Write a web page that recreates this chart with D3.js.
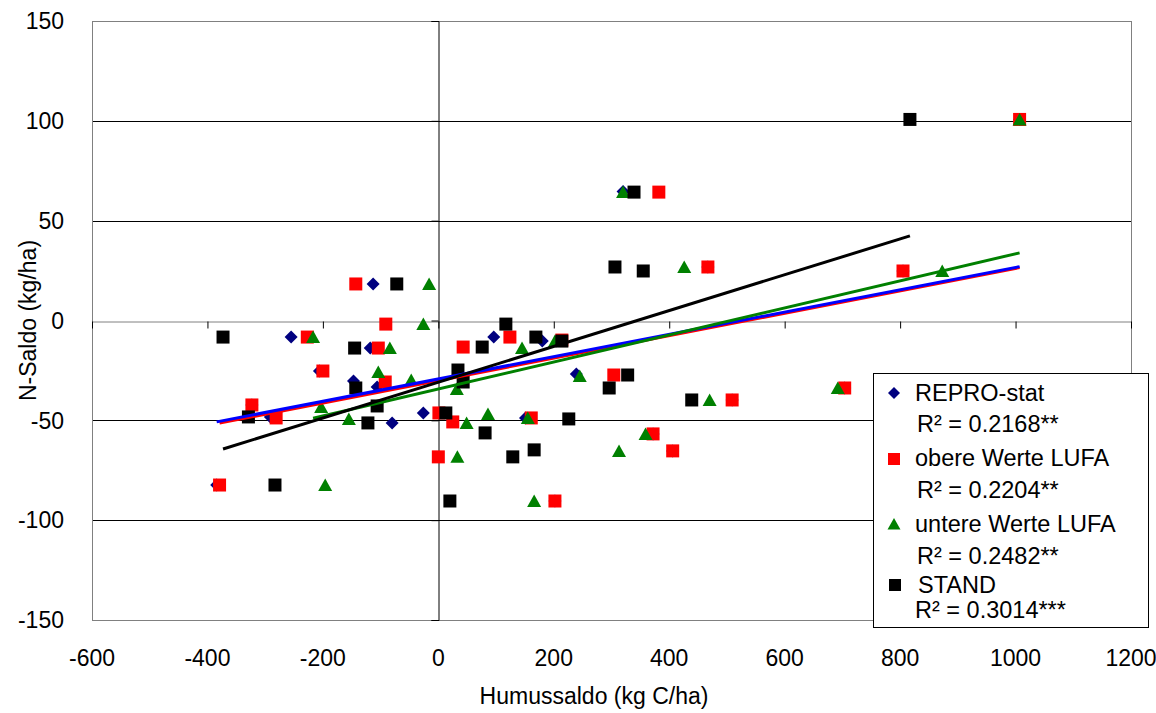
<!DOCTYPE html>
<html><head><meta charset="utf-8">
<script src="https://cdn.jsdelivr.net/npm/d3@7"></script>
<style>body{margin:0;background:#fff} text{font-family:"Liberation Sans",Arial,sans-serif;fill:#000}</style>
</head><body><svg id="c" width="1156" height="713"></svg>
<script>
const xTicks = [-600,-400,-200,0,200,400,600,800,1000,1200];
const yTicks = [-150,-100,-50,0,50,100,150];
const xTitle = "Humussaldo (kg C/ha)";
const yTitle = "N-Saldo (kg/ha)";
const seriesNames = ["REPRO-stat","obere Werte LUFA","untere Werte LUFA","STAND"];
const rSquared = ["R² = 0.2168**","R² = 0.2204**","R² = 0.2482**","R² = 0.3014***"];

const reproX = [1007,320,805,467,-113,-255,96,180,-118,-206,239,-147,-106,704,509,-323,-26,-291,151,-80,372,406,202,-384];
const reproY = [100.7,64.6,24.8,26.8,18.3,-8.3,-8.3,-10.3,-13.8,-25.3,-26.8,-30.3,-33.3,-33.8,-39.8,-42.3,-46.3,-48.3,-48.8,-51.3,-56.8,-65.3,-90.4,-82.4];

const obereX = [1007,382,467,805,-143,-91,-227,124,214,-104,43,-200,304,-92,704,509,-323,1,-281,161,25,372,406,0,-379,202];
const obereY = [100.7,64.3,26.8,24.8,18.3,-1.8,-8.3,-8.3,-9.8,-13.8,-13.3,-25.3,-27.3,-30.8,-33.8,-39.8,-42.3,-46.3,-48.8,-48.8,-50.8,-56.8,-65.3,-68.3,-82.4,-90.4];

const untereX = [1007,320,426,873,-16,-26,-217,202,-84,145,-104,245,-47,32,692,470,-203,86,-155,155,49,359,313,33,-196,166];
const untereY = [100.7,64.3,26.8,24.8,18.3,-1.8,-8.3,-10.3,-13.8,-13.8,-25.8,-27.8,-29.8,-34.3,-33.8,-39.8,-43.3,-46.8,-49.3,-48.8,-51.3,-56.8,-65.3,-68.3,-82.4,-90.4];

const standX = [817,339,306,355,-72,117,-373,169,214,-145,76,34,328,43,-143,296,439,-106,13,-329,226,-122,81,166,129,-283,20];
const standY = [100.7,64.3,26.8,24.8,18.3,-1.8,-8.3,-8.3,-10.3,-13.8,-13.3,-24.8,-27.3,-30.8,-33.8,-33.8,-39.8,-42.8,-46.3,-48.3,-49.3,-51.3,-56.3,-64.8,-68.3,-82.4,-90.4];

const trendSlope = [0.0559,0.0562,0.0677,0.0897];
const trendIntercept = [-29.3,-30.1,-34.3,-30.9];

const colors = ["#000080","#FF0000","#008000","#000000"];
const lineColors = ["#0000FF","#FF0000","#008000","#000000"];
const shapes = ["diamond","square","triangle","square"];

const svg = d3.select("#c");
const x = d3.scaleLinear().domain([-600,1200]).range([92,1131]);
const y = d3.scaleLinear().domain([-150,150]).range([620,21]);

const series = [
  {xs:reproX, ys:reproY},
  {xs:obereX, ys:obereY},
  {xs:untereX, ys:untereY},
  {xs:standX, ys:standY}
];

// gridlines
svg.append("g").selectAll("line").data(yTicks.filter(v=>v!==0 && Math.abs(v)!==150)).join("line")
  .attr("x1",x(-600)).attr("x2",x(1200))
  .attr("y1",d=>Math.round(y(d))+0.5).attr("y2",d=>Math.round(y(d))+0.5)
  .attr("stroke","#000").attr("stroke-width",1);

// frame
svg.append("rect").attr("x",x(-600)+0.5).attr("y",y(150)+0.5)
  .attr("width",x(1200)-x(-600)).attr("height",y(-150)-y(150))
  .attr("fill","none").attr("stroke","#808080").attr("stroke-width",1);

// x axis at y=0
const xAxisG = svg.append("g").attr("transform",`translate(0,${Math.round(y(0))+0.5})`)
  .call(d3.axisBottom(x).tickValues(xTicks).tickSize(7).tickFormat(""));
xAxisG.select(".domain").attr("stroke","#808080");
xAxisG.selectAll(".tick line").attr("stroke","#000");

// y axis at x=0
const yAxisG = svg.append("g").attr("transform",`translate(${Math.round(x(0))+0.5},0)`)
  .call(d3.axisLeft(y).tickValues(yTicks).tickSize(7).tickFormat(""));
yAxisG.select(".domain").attr("stroke","#000");
yAxisG.selectAll(".tick line").attr("stroke","#000");

// tick labels
svg.append("g").selectAll("text").data(xTicks).join("text")
  .attr("x",d=>x(d)).attr("y",666).attr("text-anchor","middle")
  .attr("font-size",23).text(d=>d);
svg.append("g").selectAll("text").data(yTicks).join("text")
  .attr("x",64).attr("y",d=>y(d)).attr("dy","0.36em").attr("text-anchor","end")
  .attr("font-size",23).text(d=>d);

// titles
svg.append("text").attr("x",594).attr("y",704).attr("text-anchor","middle")
  .attr("font-size",23).text(xTitle);
svg.append("text").attr("transform",`translate(36,${y(0)}) rotate(-90)`)
  .attr("text-anchor","middle").attr("font-size",23).text(yTitle);

function shapePath(shape, s){
  const h = s/2;
  if(shape==="diamond") return `M0,${-h}L${h},0L0,${h}L${-h},0Z`;
  if(shape==="triangle") return `M0,${-h}L${h+0.5},${h-0.5}L${-h-0.5},${h-0.5}Z`;
  return `M${-h},${-h}H${h}V${h}H${-h}Z`;
}

// markers
series.forEach((s,i)=>{
  svg.append("g").selectAll("path").data(s.xs.map((v,j)=>[v,s.ys[j]])).join("path")
    .attr("transform",d=>`translate(${x(d[0])},${y(d[1])})`)
    .attr("d",shapePath(shapes[i], i===0?13:13))
    .attr("fill",colors[i]);
});

// trend lines
[1,0,2,3].forEach(i=>{
  const s = series[i];
  const [x0,x1] = d3.extent(s.xs);
  svg.append("line")
    .attr("x1",x(x0)).attr("y1",y(trendSlope[i]*x0+trendIntercept[i]))
    .attr("x2",x(x1)).attr("y2",y(trendSlope[i]*x1+trendIntercept[i]))
    .attr("stroke",lineColors[i]).attr("stroke-width",3);
});

// legend
const lg = svg.append("g");
lg.append("rect").attr("x",873.5).attr("y",373.5).attr("width",275).attr("height",254)
  .attr("fill","#fff").attr("stroke","#000").attr("stroke-width",1);
const legMarkerY = [393,459,524,585];
const legTextY = [401,466,532,593];
const legRY = [432,498,564,618];
const legTextX = [915,915,915,918];
const legRX = [917,917,917,915];
seriesNames.forEach((n,i)=>{
  lg.append("path").attr("transform",`translate(${i===3?895:894},${legMarkerY[i]})`)
    .attr("d",shapePath(shapes[i],12)).attr("fill",colors[i]);
  lg.append("text").attr("x",legTextX[i]).attr("y",legTextY[i]).attr("font-size",23.5).text(n);
  lg.append("text").attr("x",legRX[i]).attr("y",legRY[i]).attr("font-size",23.5).text(rSquared[i]);
});
</script></body></html>
